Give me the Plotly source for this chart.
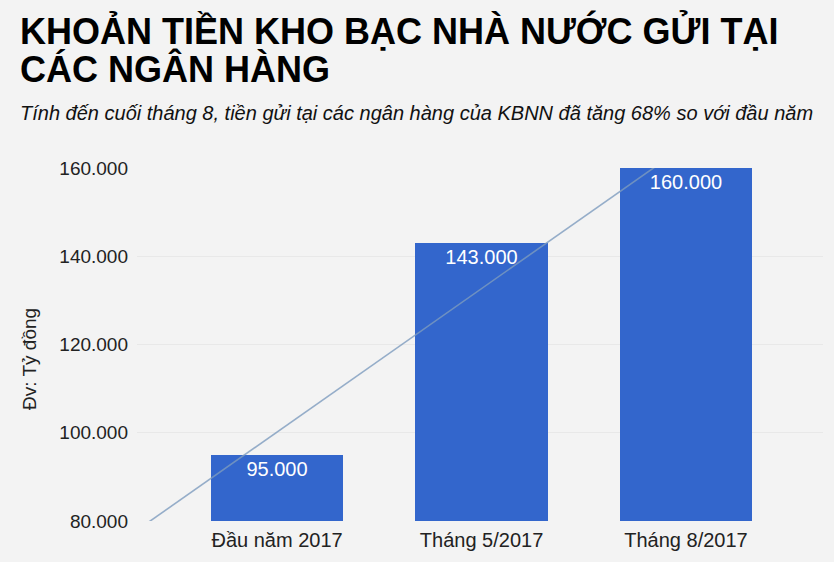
import numpy as np
import plotly.graph_objects as go

# data
categories = ["Đầu năm 2017", "Tháng 5/2017", "Tháng 8/2017"]
deposits = [95000, 143000, 160000]
y_ticks = [80000, 100000, 120000, 140000, 160000]

title_lines = ["KHOẢN TIỀN KHO BẠC NHÀ NƯỚC GỬI TẠI", "CÁC NGÂN HÀNG"]
subtitle = "Tính đến cuối tháng 8, tiền gửi tại các ngân hàng của KBNN đã tăng 68% so với đầu năm"
y_title = "Đv: Tỷ đồng"

BG = "#f3f3f3"
BAR = "#3366cc"
FONT = "Liberation Sans, Arial, sans-serif"

x_pos = list(range(len(categories)))
x_range = [-0.685, 2.67]

# linear trendline over the bars (as in the original chart)
slope, intercept = np.polyfit(x_pos, deposits, 1)
trend_x = np.array(x_range)
trend_y = slope * trend_x + intercept

fig = go.Figure()
fig.add_trace(go.Bar(
    x=x_pos, y=deposits, width=0.646,
    marker=dict(color=BAR, line=dict(width=0)),
    text=deposits, texttemplate="%{y:,}",
    textposition="inside", insidetextanchor="end",
    textfont=dict(color="white", size=20, family=FONT),
    cliponaxis=False, showlegend=False, hoverinfo="skip",
))
fig.add_trace(go.Scatter(
    x=trend_x, y=trend_y, mode="lines",
    line=dict(color="rgba(125,155,190,0.8)", width=1.6),
    showlegend=False, hoverinfo="skip",
))

fig.update_layout(
    width=834, height=562,
    paper_bgcolor=BG, plot_bgcolor=BG,
    margin=dict(l=137, r=11, t=168, b=39),
    separators=",.",
    font=dict(family=FONT, color="#222222"),
    bargap=0,
)
fig.update_xaxes(
    range=x_range, tickvals=x_pos, ticktext=categories,
    tickfont=dict(size=20, color="#222222"), ticklabelstandoff=5,
    showgrid=False, zeroline=False, ticks="", ticklen=0,
)
fig.update_yaxes(
    range=[80000, 160000], tickvals=y_ticks, tickformat=",d",
    tickfont=dict(size=19, color="#222222"), ticklabelstandoff=8,
    gridcolor="#e8e8e8", gridwidth=1, zeroline=False, ticks="",
)

# rotated unit label on the left
fig.add_annotation(text=y_title, xref="paper", yref="paper", x=-0.156, y=0.459,
                   xanchor="center", yanchor="middle", textangle=-90, showarrow=False,
                   font=dict(size=19, color="#222222", family=FONT))

fig.add_annotation(text="<b>" + title_lines[0] + "</b>", xref="paper", yref="paper",
                   x=-0.174, y=1.0, xanchor="left", yanchor="bottom", yshift=114,
                   showarrow=False, font=dict(size=36, color="#000000", family=FONT))
fig.add_annotation(text="<b>" + title_lines[1] + "</b>", xref="paper", yref="paper",
                   x=-0.174, y=1.0, xanchor="left", yanchor="bottom", yshift=76,
                   showarrow=False, font=dict(size=36, color="#000000", family=FONT))
fig.add_annotation(text="<i>" + subtitle + "</i>", xref="paper", yref="paper",
                   x=-0.174, y=1.0, xanchor="left", yanchor="bottom", yshift=42,
                   showarrow=False, font=dict(size=20, color="#111111", family=FONT))

fig.write_html("out.html", config={"displayModeBar": False},
               post_script="document.body.style.margin='0';")
